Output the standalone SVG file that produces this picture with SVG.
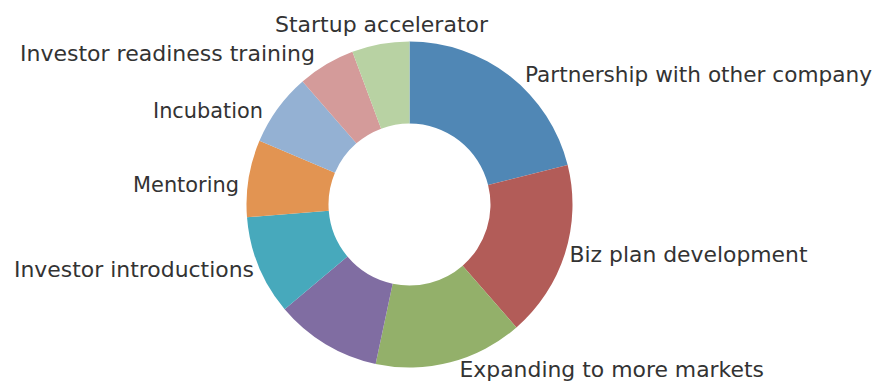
<svg xmlns="http://www.w3.org/2000/svg" width="886" height="383" viewBox="0 0 886 383">
<style>
.lbl{font-family:"DejaVu Sans","Liberation Sans",sans-serif;font-size:22px;fill:#333333;}
</style>
<rect width="886" height="383" fill="#ffffff"/>
<g id="slices">
<g id="s-partnership"><path d="M409.5,41.5 A163,163 0 0 1 567.66,165.07 L488.09,184.9 A81,81 0 0 0 409.5,123.5 Z" fill="#5087b5"/></g>
<g id="s-bizplan"><path d="M567.66,165.07 A163,163 0 0 1 516.44,327.52 L462.64,265.63 A81,81 0 0 0 488.09,184.9 Z" fill="#b25c58"/></g>
<g id="s-expanding"><path d="M516.44,327.52 A163,163 0 0 1 375.61,363.94 L392.66,283.73 A81,81 0 0 0 462.64,265.63 Z" fill="#93b06a"/></g>
<g id="s-purple"><path d="M375.61,363.94 A163,163 0 0 1 284.64,309.27 L347.45,256.57 A81,81 0 0 0 392.66,283.73 Z" fill="#806da2"/></g>
<g id="s-introductions"><path d="M284.64,309.27 A163,163 0 0 1 247,217.29 L328.75,210.86 A81,81 0 0 0 347.45,256.57 Z" fill="#47a9bc"/></g>
<g id="s-mentoring"><path d="M247,217.29 A163,163 0 0 1 259.46,140.81 L334.94,172.85 A81,81 0 0 0 328.75,210.86 Z" fill="#e29452"/></g>
<g id="s-incubation"><path d="M259.46,140.81 A163,163 0 0 1 302.56,81.48 L356.36,143.37 A81,81 0 0 0 334.94,172.85 Z" fill="#94b1d3"/></g>
<g id="s-readiness"><path d="M302.56,81.48 A163,163 0 0 1 352.42,51.82 L381.13,128.63 A81,81 0 0 0 356.36,143.37 Z" fill="#d49b9a"/></g>
<g id="s-accelerator"><path d="M352.42,51.82 A163,163 0 0 1 409.5,41.5 L409.5,123.5 A81,81 0 0 0 381.13,128.63 Z" fill="#b8d2a3"/></g>
</g>
<g id="labels">
<text class="lbl" x="275" y="32" textLength="213" lengthAdjust="spacingAndGlyphs">Startup accelerator</text>
<text class="lbl" x="20" y="61" textLength="295" lengthAdjust="spacingAndGlyphs">Investor readiness training</text>
<text class="lbl" x="525" y="81.5" textLength="347" lengthAdjust="spacingAndGlyphs">Partnership with other company</text>
<text class="lbl" x="153" y="117.5" textLength="110" lengthAdjust="spacingAndGlyphs">Incubation</text>
<text class="lbl" x="133" y="191.5" textLength="106" lengthAdjust="spacingAndGlyphs">Mentoring</text>
<text class="lbl" x="14" y="276.5" textLength="240" lengthAdjust="spacingAndGlyphs">Investor introductions</text>
<text class="lbl" x="569.5" y="261.5" textLength="238" lengthAdjust="spacingAndGlyphs">Biz plan development</text>
<text class="lbl" x="459.5" y="376.5" textLength="304.5" lengthAdjust="spacingAndGlyphs">Expanding to more markets</text>
</g>
</svg>
